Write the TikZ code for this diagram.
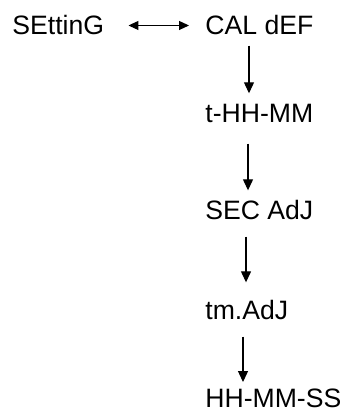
\documentclass[tikz,border=0pt]{standalone}
\usepackage{fontspec}
\setmainfont{Liberation Sans}
\usetikzlibrary{arrows.meta}
\tikzset{
    menustate/.style={
        inner sep=0pt,
        anchor=base west,
        font=\fontsize{13.3}{15}\selectfont
    },
    menuarrow/.style={
        -{Triangle[length=5.5pt,width=5pt]},
        draw=black,
        line width=0.6pt
    },
    menuswap/.style={
        {Triangle[length=5pt,width=4.5pt]}-{Triangle[length=5pt,width=4.5pt]},
        draw=black,
        line width=0.6pt
    }
}
\begin{document}
\begin{tikzpicture}[x=0.5pt,y=-0.5pt]
    \useasboundingbox (0,0) rectangle (342,410);
    \node[menustate] (setting) at (12,35) {SEttinG};
    \node[menustate] (caldef) at (205,35) {CAL dEF};
    \node[menustate] (thhmm) at (205,123) {t-HH-MM};
    \node[menustate] (secadj) at (205,220) {SEC AdJ};
    \node[menustate] (tmadj) at (205,319) {tm.AdJ};
    \node[menustate] (hhmmss) at (205,407) {HH-MM-SS};

    \draw[menuswap,shorten <=12pt,shorten >=8pt] (setting.east) -- (caldef.west);
    \draw[menuarrow,shorten <=5pt,shorten >=5.5pt]
        ([xshift=22pt]caldef.south west) -- ([xshift=22pt]thhmm.north west);
    \draw[menuarrow,shorten <=10pt,shorten >=5pt]
        ([xshift=21.5pt]thhmm.south west) -- ([xshift=21.5pt]secadj.north west);
    \draw[menuarrow,shorten <=8pt,shorten >=8.5pt]
        ([xshift=20.5pt]secadj.south west) -- ([xshift=20.5pt]tmadj.north west);
    \draw[menuarrow,shorten <=8.5pt,shorten >=3pt]
        ([xshift=19pt]tmadj.south west) -- ([xshift=19pt]hhmmss.north west);
\end{tikzpicture}
\end{document}
